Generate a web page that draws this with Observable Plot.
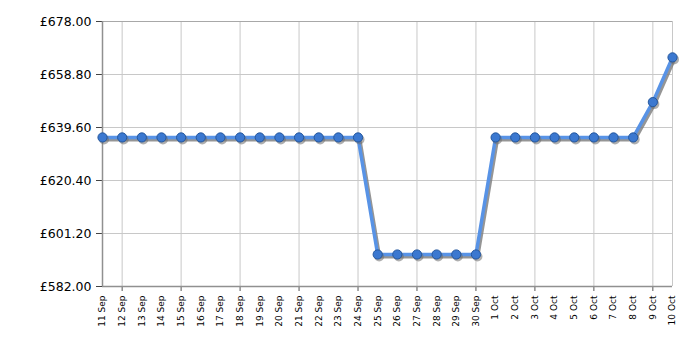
<!DOCTYPE html>
<html>
<head>
<meta charset="utf-8">
<script src="https://cdn.jsdelivr.net/npm/d3@7"></script>
<script src="https://cdn.jsdelivr.net/npm/@observablehq/plot@0.6"></script>
<style>
  html, body { margin: 0; padding: 0; background: #fff; }
  #chart svg { display: block; }
</style>
</head>
<body>
<div id="chart"></div>
<script>
const dates = ["11 Sep","12 Sep","13 Sep","14 Sep","15 Sep","16 Sep","17 Sep","18 Sep","19 Sep","20 Sep",
  "21 Sep","22 Sep","23 Sep","24 Sep","25 Sep","26 Sep","27 Sep","28 Sep","29 Sep","30 Sep",
  "1 Oct","2 Oct","3 Oct","4 Oct","5 Oct","6 Oct","7 Oct","8 Oct","9 Oct","10 Oct"];
const prices = [636, 636, 636, 636, 636, 636, 636, 636, 636, 636,
  636, 636, 636, 636, 593.6, 593.6, 593.6, 593.6, 593.6, 593.6,
  636, 636, 636, 636, 636, 636, 636, 636, 648.8, 665];
const gridDates = ["12 Sep","15 Sep","18 Sep","21 Sep","24 Sep","27 Sep","30 Sep","3 Oct","6 Oct","9 Oct"];
const yTicks = [582, 601.2, 620.4, 639.6, 658.8, 678];

const data = dates.map((d, i) => ({i, date: d, price: prices[i]}));
const allIdx = dates.map((d, i) => i);
const gridIdx = gridDates.map(d => dates.indexOf(d));
const last = dates.length - 1;

const chart = Plot.plot({
  width: 700,
  height: 350,
  marginLeft: 102,
  marginRight: 28,
  marginTop: 21,
  marginBottom: 64,
  style: {fontFamily: "DejaVu Sans, Verdana, sans-serif", background: "#fff", color: "#000"},
  x: {type: "linear", domain: [0, last]},
  y: {domain: [582, 678]},
  marks: [
    Plot.ruleX(gridIdx, {stroke: "#c8c8c8", strokeOpacity: 1}),
    Plot.ruleY(yTicks.slice(1, -1), {stroke: "#c8c8c8", strokeOpacity: 1}),
    Plot.ruleY([678], {stroke: "#a8a8a8"}),
    Plot.ruleX([last], {stroke: "#c8c8c8"}),
    Plot.axisX({ticks: allIdx, tickSize: 0, tickPadding: 9, tickRotate: -90, fontSize: 9, textAnchor: "end", tickFormat: i => dates[i], label: null}),
    Plot.axisX({ticks: gridIdx, tickSize: 5, tickFormat: () => "", stroke: "#555", label: null}),
    Plot.axisY({ticks: yTicks, tickSize: 6, tickPadding: 5, fontSize: 12.5, tickFormat: d => "£" + d.toFixed(2), stroke: "#444", label: null}),
    Plot.ruleX([0], {stroke: "#909090", strokeWidth: 1.5}),
    Plot.ruleY([582], {stroke: "#909090", strokeWidth: 1.5}),
    Plot.line(data, {x: "i", y: "price", stroke: "#7a7a7a", strokeWidth: 4, strokeOpacity: 0.8, dx: 1.5, dy: 2}),
    Plot.line(data, {x: "i", y: "price", stroke: "#5893e6", strokeWidth: 3.5}),
    Plot.dot(data, {x: "i", y: "price", r: 5, fill: "#6e6e6e", fillOpacity: 0.55, dx: 1.5, dy: 2}),
    Plot.dot(data, {x: "i", y: "price", r: 4.6, fill: "#3b78d0", stroke: "#24579e", strokeWidth: 1})
  ]
});
document.getElementById("chart").appendChild(chart);
</script>
</body>
</html>
